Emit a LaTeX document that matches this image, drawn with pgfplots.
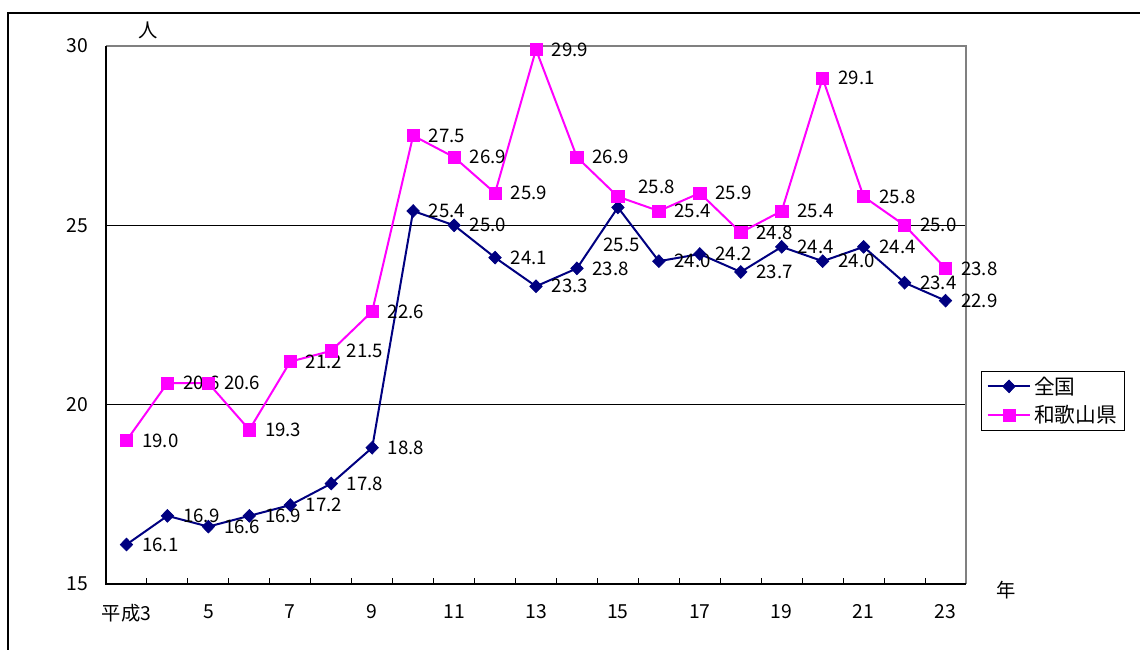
\documentclass[border=0pt]{standalone}
\usepackage{fontspec}
\setmainfont{Noto Sans CJK JP}
\usepackage{pgfplots}
\usepackage{pgfplotstable}
\pgfplotsset{compat=1.18}
\definecolor{navyc}{RGB}{0,0,128}
\definecolor{magc}{RGB}{255,0,255}
\definecolor{bordergray}{RGB}{128,128,128}

\pgfplotstableread{
x y dx dy
3 16.1 0 0
4 16.9 0 0
5 16.6 0 0
6 16.9 0 0
7 17.2 0 0
8 17.8 0 0
9 18.8 0 0
10 25.4 0 0
11 25.0 0 0
12 24.1 0 0
13 23.3 0 0
14 23.8 0 0
15 25.5 -30 -37
16 24.0 0 0
17 24.2 0 0
18 23.7 0 0
19 24.4 0 0
20 24.0 0 0
21 24.4 0 0
22 23.4 0 0
23 22.9 0 0
}\zenkoku

\pgfplotstableread{
x y dx dy
3 19.0 0 0
4 20.6 0 0
5 20.6 0 0
6 19.3 0 0
7 21.2 0 0
8 21.5 0 0
9 22.6 0 0
10 27.5 0 0
11 26.9 0 0
12 25.9 0 0
13 29.9 0 0
14 26.9 0 0
15 25.8 5 10
16 25.4 0 0
17 25.9 0 0
18 24.8 0 0
19 25.4 0 0
20 29.1 0 0
21 25.8 0 0
22 25.0 0 0
23 23.8 0 0
}\wakayama

\begin{document}
\begin{tikzpicture}
\path[use as bounding box] (0pt,0pt) rectangle (855pt,487.5pt);
\draw[line width=1.2pt] (6pt,0pt) -- (6pt,477.75pt) -- (855pt,477.75pt);
\begin{axis}[
  at={(79.5pt,49.5pt)}, anchor=south west,
  scale only axis, width=645pt, height=403.5pt,
  xmin=2.5, xmax=23.5, ymin=15, ymax=30,
  clip=false,
  axis line style={draw=none},
  font=\fontsize{14.5}{16}\selectfont,
  /pgf/number format/assume math mode=true,
  xtick={3,5,...,23},
  xticklabels={平成3,5,7,9,11,13,15,17,19,21,23},
  minor xtick={3.5,4.5,...,22.5},
  major tick length=0pt,
  minor tick length=4.5pt,
  tick align=inside,
  xtick pos=bottom, ytick pos=left,
  tick style={black, line width=0.8pt},
  ytick={15,20,25,30},
  extra y ticks={20,25},
  extra y tick labels={},
  extra y tick style={ymajorgrids=true, major tick length=0pt},
  grid style={black, line width=0.7pt},
  xticklabel style={yshift=-12pt},
  yticklabel style={xshift=-10pt},
  visualization depends on={\thisrow{dx} \as \dx},
  visualization depends on={\thisrow{dy} \as \dy},
  nodes near coords={\pgfmathprintnumber[fixed,fixed zerofill,precision=1]{\pgfplotspointmeta}},
  point meta=y,
  nodes near coords style={anchor=west, inner sep=0pt, text=black,
     font=\fontsize{14}{16}\selectfont,
     xshift={(11.5+0.75*\dx)*1pt}, yshift={(0.75*\dy)*1pt}},
  legend style={at={(1.0174,0.396)}, anchor=north west, draw=black, line width=0.6pt,
     font=\fontsize{15.5}{17}\selectfont, inner xsep=4pt, inner ysep=2pt, row sep=3pt,
     cells={anchor=west}},
  legend image code/.code={\draw[mark repeat=2,mark phase=2,#1] plot coordinates {(0pt,0pt) (16pt,0pt) (32pt,0pt)};},
]
\draw[bordergray, line width=1.2pt] (rel axis cs:0,1) -- (rel axis cs:1,1) -- (rel axis cs:1,0);
\draw[black, line width=1.2pt] (rel axis cs:0,1) -- (rel axis cs:0,0) -- (rel axis cs:1,0);
\addplot[navyc, line width=1.5pt, mark=diamond*, mark size=4.8pt,
  mark options={xscale=1.3, fill=navyc, line width=0.5pt}] table[x=x,y=y] {\zenkoku};
\addlegendentry{全国}
\addplot[magc, line width=1.5pt, mark=square*, mark size=4.6pt,
  mark options={fill=magc, line width=0.5pt}] table[x=x,y=y] {\wakayama};
\addlegendentry{和歌山県}
\end{axis}
\node[font=\fontsize{14.5}{16}\selectfont] at (111pt,465pt) {人};
\node[font=\fontsize{14.5}{16}\selectfont] at (754.5pt,45pt) {年};
\end{tikzpicture}
\end{document}
